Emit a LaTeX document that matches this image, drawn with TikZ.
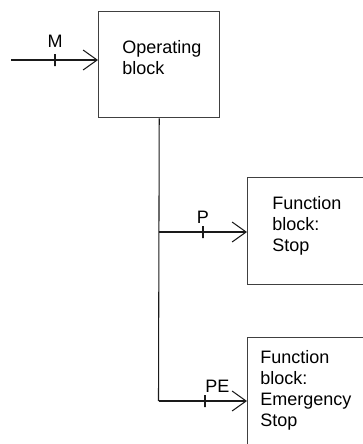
\documentclass[tikz,border=0pt]{standalone}
\usepackage{fontspec}
\setmainfont{Liberation Sans}
\usepackage{xcolor}
\usetikzlibrary{arrows.meta}
\definecolor{BLine}{HTML}{1A1A1A}
\definecolor{BBox}{HTML}{404040}

\tikzset{
  blockbox/.style={draw=BBox,line width=1.1pt,inner sep=0pt,anchor=north west},
  blocktext/.style={anchor=base west,align=left,inner sep=0pt,font=\fontsize{13.5}{15.75}\selectfont},
  flow/.style={draw=BLine,line width=0.8pt,-{Straight Barb[length=10.5pt,width=15pt,line width=0.8pt]}},
  tickmark/.style={draw=BLine,line width=0.8pt,inner sep=0pt,minimum width=0pt,minimum height=9pt},
  sigtext/.style={anchor=base,inner sep=0pt,font=\fontsize{13.5}{15.75}\selectfont}
}

\begin{document}
\begin{tikzpicture}[x=0.75pt,y=-0.75pt]
\path[use as bounding box] (0,0) rectangle (363,444);
% blocks
\node[blockbox,minimum width=90.75pt,minimum height=79.5pt] (opbox) at (98,11) {};
\node[blocktext] (optext) at (122,74) {Operating\\block};
\node[blockbox,minimum width=97.5pt,minimum height=80.25pt] (stopbox) at (247,177) {};
\node[blocktext] (stoptext) at (272,251) {Function\\block:\\Stop};
\node[blockbox,minimum width=97.5pt,minimum height=97.5pt] (estopbox) at (247,337) {};
\node[blocktext] (estoptext) at (260,426) {Function\\block:\\Emergency\\Stop};
% signals
\coordinate (in) at (11,60);
\coordinate (jP) at (158.5,232);
\coordinate (jPE) at (158.5,401);
\draw[flow] (in) -- (in -| opbox.west);
\draw[BLine,line width=0.8pt] (opbox.south) -- (jPE);
\draw[flow] (jP) -- (jP -| stopbox.west);
\draw[flow] (jPE) -- (jPE -| estopbox.west);
\node[tickmark] (tM) at (55,60) {};
\node[tickmark] (tP) at (203,232) {};
\node[tickmark] (tPE) at (205,401) {};
\node[sigtext] (lM) at (55,47) {M};
\node[sigtext] (lP) at (203,223) {P};
\node[sigtext,anchor=base west] (lPE) at (205,392) {PE};
\end{tikzpicture}
\end{document}
